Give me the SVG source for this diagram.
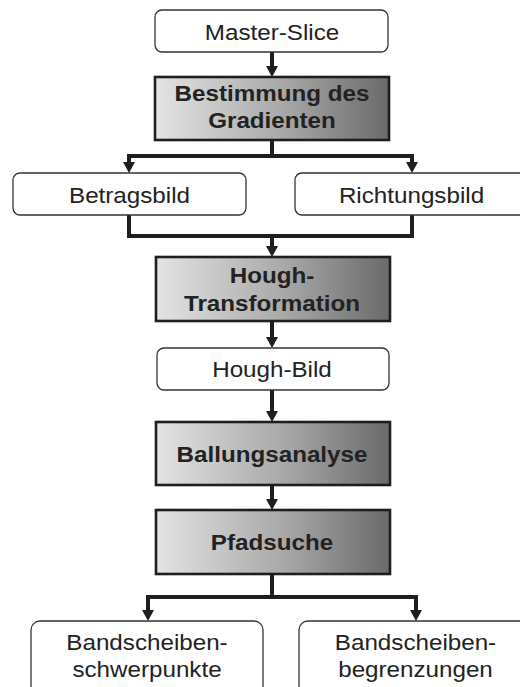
<svg xmlns="http://www.w3.org/2000/svg" width="520" height="687" viewBox="0 0 520 687">
  <style>
    .data{fill:#fff;stroke:#333;stroke-width:1.3}
    .proc{fill:url(#shade);stroke:#1e1e1e;stroke-width:2.6}
    .t{font-family:"Liberation Sans",Arial,Helvetica,sans-serif;font-size:22px;text-anchor:middle;fill:#222}
    .b{font-weight:bold}
    .wire{fill:none;stroke:#1e1e1e;stroke-width:4;stroke-linejoin:miter}
    .arr{fill:none;stroke:#1e1e1e;stroke-width:4;marker-end:url(#head)}
  </style>
  <defs>
    <linearGradient id="shade" x1="0" y1="0" x2="1" y2="0">
      <stop offset="0" stop-color="#e4e4e4"/>
      <stop offset="0.55" stop-color="#a8a8a8"/>
      <stop offset="1" stop-color="#6a6a6a"/>
    </linearGradient>
    <marker id="head" markerUnits="userSpaceOnUse" markerWidth="12" markerHeight="12" refX="5" refY="6" orient="auto">
      <path d="M0,0 L11,6 L0,12 z" fill="#1e1e1e"/>
    </marker>
  </defs>

  <!-- connectors -->
  <g id="connectors">
    <line class="arr" x1="272" y1="52" x2="272" y2="71"/>
    <polyline class="wire" points="272,140 272,156"/>
    <polyline class="arr" points="272,156 129,156 129,167"/>
    <polyline class="arr" points="272,156 412,156 412,167"/>
    <polyline class="wire" points="129,215 129,236 412,236 412,215"/>
    <line class="arr" x1="272" y1="236" x2="272" y2="251"/>
    <line class="arr" x1="272" y1="321" x2="272" y2="342"/>
    <line class="arr" x1="272" y1="390" x2="272" y2="416"/>
    <line class="arr" x1="272" y1="485" x2="272" y2="504"/>
    <polyline class="wire" points="272,574 272,597"/>
    <polyline class="arr" points="272,597 148,597 148,615"/>
    <polyline class="arr" points="272,597 416,597 416,615"/>
  </g>

  <g id="master-slice">
    <rect class="data" x="155" y="10" width="233" height="42" rx="7"/>
    <g transform="translate(272,39.5) scale(1.1,1)"><text class="t">Master-Slice</text></g>
  </g>

  <g id="gradient">
    <rect class="proc" x="155" y="77" width="234" height="63"/>
    <g transform="translate(272,101) scale(1.1,1)"><text class="t b">Bestimmung des</text></g>
    <g transform="translate(272,128) scale(1.1,1)"><text class="t b">Gradienten</text></g>
  </g>

  <g id="betragsbild">
    <rect class="data" x="13" y="173" width="233" height="42" rx="7"/>
    <g transform="translate(129.5,203) scale(1.1,1)"><text class="t">Betragsbild</text></g>
  </g>

  <g id="richtungsbild">
    <rect class="data" x="295" y="173" width="233" height="42" rx="7"/>
    <g transform="translate(411.5,203) scale(1.1,1)"><text class="t">Richtungsbild</text></g>
  </g>

  <g id="hough-transformation">
    <rect class="proc" x="156" y="257" width="234" height="64"/>
    <g transform="translate(272,283) scale(1.1,1)"><text class="t b">Hough-</text></g>
    <g transform="translate(272,311) scale(1.1,1)"><text class="t b">Transformation</text></g>
  </g>

  <g id="hough-bild">
    <rect class="data" x="157" y="348" width="232" height="42" rx="7"/>
    <g transform="translate(272,377) scale(1.1,1)"><text class="t">Hough-Bild</text></g>
  </g>

  <g id="ballungsanalyse">
    <rect class="proc" x="156" y="422" width="234" height="63"/>
    <g transform="translate(272,462) scale(1.1,1)"><text class="t b">Ballungsanalyse</text></g>
  </g>

  <g id="pfadsuche">
    <rect class="proc" x="156" y="510" width="234" height="64"/>
    <g transform="translate(272,550) scale(1.1,1)"><text class="t b">Pfadsuche</text></g>
  </g>

  <g id="schwerpunkte">
    <rect class="data" x="31" y="621" width="232" height="90" rx="9"/>
    <g transform="translate(147,650) scale(1.1,1)"><text class="t">Bandscheiben-</text></g>
    <g transform="translate(147,677) scale(1.1,1)"><text class="t">schwerpunkte</text></g>
  </g>

  <g id="begrenzungen">
    <rect class="data" x="299" y="621" width="232" height="90" rx="9"/>
    <g transform="translate(415.5,650) scale(1.1,1)"><text class="t">Bandscheiben-</text></g>
    <g transform="translate(415.5,677) scale(1.1,1)"><text class="t">begrenzungen</text></g>
  </g>
</svg>
